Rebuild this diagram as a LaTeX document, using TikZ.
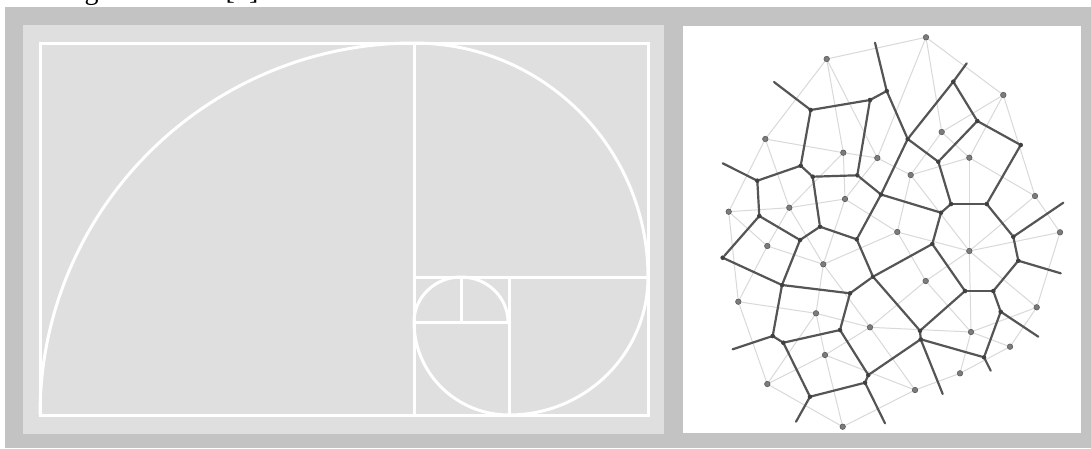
\documentclass[tikz,border=0pt]{standalone}
\usepackage{fontspec}
\setmainfont{Liberation Serif}
\pgfdeclarelayer{back}
\pgfdeclarelayer{edges}
\pgfsetlayers{back,edges,main}
\definecolor{outergray}{HTML}{C3C3C3}
\definecolor{panelgray}{HTML}{DFDFDF}
\definecolor{vor}{HTML}{555555}
\definecolor{del}{HTML}{D9D9D9}
\definecolor{seedfill}{HTML}{7C7C7C}
\definecolor{seeddraw}{HTML}{5A5A5A}
\definecolor{vtxfill}{HTML}{404040}
\tikzset{
  gold/.style={draw=white, line width=3pt},
  vedge/.style={draw=vor, line width=2.2pt, line cap=round},
  dedge/.style={draw=del, line width=1pt},
  seed/.style={circle, fill=seedfill, draw=seeddraw, line width=0.6pt, minimum size=5.5pt, inner sep=0pt},
  vtx/.style={circle, fill=vtxfill, minimum size=4.6pt, inner sep=0pt},
  captext/.style={font=\fontsize{28}{32}\selectfont, inner sep=0pt, anchor=base west},
}
\begin{document}
\begin{tikzpicture}[x=1pt,y=-1pt]
\useasboundingbox (0,0) rectangle (1091,448);
\begin{pgfonlayer}{back}
\fill[white] (0,0) rectangle (1091,448);
\fill[outergray] (5,7) rectangle (1091,448);
\fill[panelgray] (23,25) rectangle (664,434);
\fill[white] (683,26) rectangle (1081,433);
% golden rectangle and spiral
\draw[gold] (40,43) rectangle (648,415);
\draw[gold] (414,43) -- (414,415);
\draw[gold] (414,277) -- (648,277);
\draw[gold] (509,277) -- (509,415);
\draw[gold] (414,322) -- (509,322);
\draw[gold] (461,277) -- (461,322);
\draw[gold] (40,415) arc[start angle=180, end angle=270, x radius=374, y radius=372]
  arc[start angle=270, end angle=360, radius=234]
  arc[start angle=0, end angle=90, x radius=139, y radius=138]
  arc[start angle=90, end angle=180, x radius=95, y radius=93]
  arc[start angle=180, end angle=360, x radius=47, y radius=45];
\end{pgfonlayer}

% caption remnants (cut off at top)
\node[captext] (cap1) at (61,-1) {Figure};
\node[captext] (cap2) at (225.5,-1) {[1]};

% seeds
\node[seed] (sA) at (826.7,59) {};
\node[seed] (sB) at (765.3,139) {};
\node[seed] (sC) at (843.3,152.7) {};
\node[seed] (sD) at (877.3,158) {};
\node[seed] (sE) at (728.7,211.7) {};
\node[seed] (sF) at (789.3,207.7) {};
\node[seed] (sG) at (845,199) {};
\node[seed] (sH) at (926,37.3) {};
\node[seed] (sI) at (1003.3,95) {};
\node[seed] (sJ) at (941.7,132) {};
\node[seed] (sK) at (969.3,157.7) {};
\node[seed] (sL) at (910.7,175) {};
\node[seed] (sM) at (1035,196) {};
\node[seed] (sN) at (767.3,246) {};
\node[seed] (sO) at (823.3,264.3) {};
\node[seed] (sP) at (738.3,301.7) {};
\node[seed] (sQ) at (816,313.3) {};
\node[seed] (sR) at (870,327.3) {};
\node[seed] (sS) at (825,355) {};
\node[seed] (sT) at (767.3,384) {};
\node[seed] (sU) at (842.7,426.7) {};
\node[seed] (sV) at (897.3,232) {};
\node[seed] (sW) at (969.3,251) {};
\node[seed] (sX) at (1060,232.3) {};
\node[seed] (sY) at (925.7,281) {};
\node[seed] (sZ) at (1036.7,307.3) {};
\node[seed] (sAA) at (971,332) {};
\node[seed] (sAB) at (1010,346.7) {};
\node[seed] (sAC) at (960,373.3) {};
\node[seed] (sAD) at (915,390) {};

% voronoi vertices
\node[vtx] (v1) at (810.7,110) {};
\node[vtx] (v2) at (870,100) {};
\node[vtx] (v3) at (800.7,165.7) {};
\node[vtx] (v4) at (812.7,176.7) {};
\node[vtx] (v5) at (757.3,180.7) {};
\node[vtx] (v6) at (857.3,175.3) {};
\node[vtx] (v7) at (759.3,216) {};
\node[vtx] (v8) at (881,194.5) {};
\node[vtx] (v9) at (820,226.7) {};
\node[vtx] (v10) at (886.7,91) {};
\node[vtx] (v11) at (953.3,81.7) {};
\node[vtx] (v12) at (907.7,139) {};
\node[vtx] (v13) at (977.3,121) {};
\node[vtx] (v14) at (1020.7,145) {};
\node[vtx] (v15) at (938.3,161.7) {};
\node[vtx] (v16) at (951,204) {};
\node[vtx] (v17) at (986.7,204) {};
\node[vtx] (v18) at (941,212.7) {};
\node[vtx] (v19) at (722.7,257.7) {};
\node[vtx] (v20) at (782,285) {};
\node[vtx] (v21) at (800,240) {};
\node[vtx] (v22) at (856.7,239.3) {};
\node[vtx] (v23) at (850,293.3) {};
\node[vtx] (v24) at (772.7,336) {};
\node[vtx] (v25) at (783.3,342.7) {};
\node[vtx] (v26) at (840,330) {};
\node[vtx] (v27) at (810,396.7) {};
\node[vtx] (v28) at (865,382.7) {};
\node[vtx] (v29) at (873,276.7) {};
\node[vtx] (v30) at (932.3,244) {};
\node[vtx] (v31) at (965,291) {};
\node[vtx] (v32) at (993.3,291) {};
\node[vtx] (v33) at (1013.3,236.7) {};
\node[vtx] (v34) at (1018.3,260.7) {};
\node[vtx] (v35) at (1000.7,311.7) {};
\node[vtx] (v36) at (920,330.7) {};
\node[vtx] (v37) at (920.7,339.3) {};
\node[vtx] (v38) at (984,357.3) {};
\node[vtx] (v39) at (868.3,375) {};

% free ends of open cells
\coordinate (r1) at (774,82);
\coordinate (r2) at (875,42.7);
\coordinate (r3) at (966.7,63.3);
\coordinate (r4) at (722.7,163.3);
\coordinate (r5) at (732.7,349.3);
\coordinate (r6) at (796,421.7);
\coordinate (r7) at (885,423.3);
\coordinate (r8) at (942.7,394);
\coordinate (r9) at (990.7,370.7);
\coordinate (r10) at (1038.3,336.7);
\coordinate (r11) at (1060.7,273.3);
\coordinate (r12) at (1063.3,202.7);

\begin{pgfonlayer}{edges}
% Delaunay triangulation (light)
\foreach \a/\b in {sA/sB,sA/sC,sA/sD,sA/sH,sB/sC,sB/sE,sB/sF,sC/sD,sC/sF,sC/sG,sD/sG,sD/sH,sD/sL,
  sE/sF,sE/sN,sE/sP,sF/sG,sF/sN,sF/sO,sG/sO,sG/sV,sH/sI,sH/sJ,sI/sJ,sI/sK,sI/sM,sJ/sK,sJ/sL,sK/sL,
  sK/sM,sK/sW,sL/sW,sL/sV,sM/sW,sM/sX,sN/sO,sN/sP,sO/sQ,sO/sR,sO/sV,sP/sQ,sP/sT,sQ/sT,sQ/sS,sQ/sR,
  sR/sS,sR/sAD,sR/sY,sR/sAA,sS/sT,sS/sU,sS/sAD,sT/sU,sU/sAD,sV/sW,sV/sY,sW/sX,sW/sZ,sW/sAA,sW/sY,
  sX/sZ,sY/sAA,sZ/sAA,sZ/sAB,sAA/sAB,sAA/sAC,sAB/sAC,sAC/sAD}
  {\draw[dedge] (\a) -- (\b);}
% Voronoi edges (dark)
\foreach \a/\b in {v1/v2,v1/r1,v1/v3,v2/v6,v2/v10,v10/r2,v10/v12,v11/v12,v11/r3,v11/v13,v13/v14,
  v13/v15,v12/v15,v12/v8,v14/v17,v15/v16,v16/v17,v16/v18,v8/v18,v8/v6,v8/v22,v3/v4,v3/v5,v5/r4,
  v5/v7,v4/v6,v4/v9,v7/v21,v7/v19,v19/v20,v21/v9,v9/v22,v21/v20,v20/v23,v20/v24,v24/r5,v24/v25,
  v25/v26,v23/v26,v23/v29,v22/v29,v25/v27,v27/r6,v27/v28,v26/v39,v39/v28,v28/r7,v18/v30,v17/v33,
  v33/r12,v33/v34,v34/r11,v34/v32,v32/v31,v31/v30,v30/v29,v31/v36,v32/v35,v35/r10,v35/v38,v38/r9,
  v37/v38,v29/v36,v36/v37,v37/r8,v37/v39}
  {\draw[vedge] (\a.center) -- (\b);}
\end{pgfonlayer}
\end{tikzpicture}
\end{document}
